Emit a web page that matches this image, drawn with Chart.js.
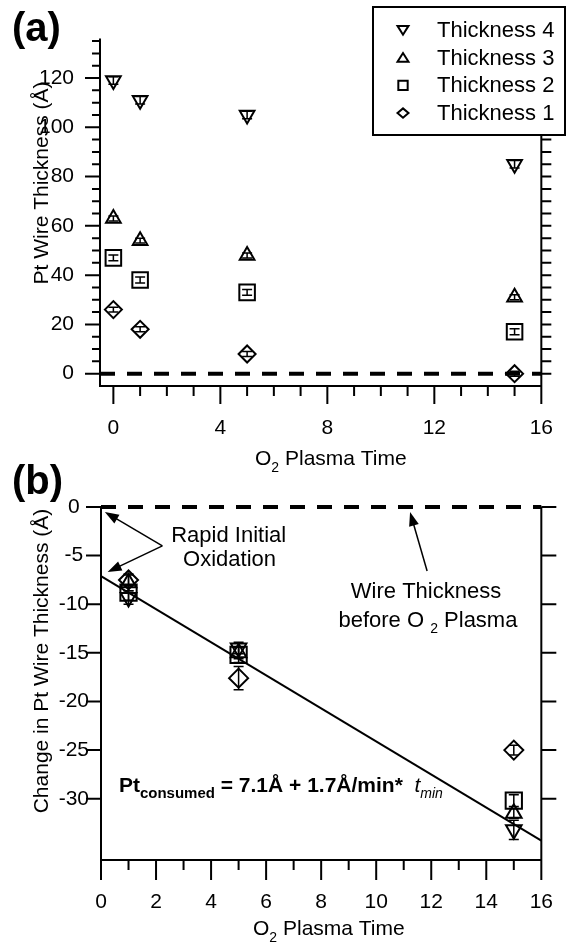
<!DOCTYPE html>
<html lang="en">
<head>
<meta charset="utf-8">
<title>Pt wire thickness vs O2 plasma time</title>
<style>
  body { margin: 0; background: #fff; }
  #wrap { position: relative; width: 583px; height: 945px; }
  canvas { position: absolute; left: 0; }
  #chartA { top: 0; }
  #chartB { top: 455px; }
</style>
</head>
<body>
<div id="wrap">
  <canvas id="chartA" width="583" height="475"></canvas>
  <canvas id="chartB" width="583" height="490"></canvas>
</div>
<script src="https://cdn.jsdelivr.net/npm/chart.js"></script>
<script>
// plasma exposure times (min)
const times = [0, 1, 5, 15]
const timesB = [1, 5, 15]

// (a) wire thickness, Å
const thick4 = [119, 111, 105, 85]
const thick3 = [63, 54, 48, 31]
const thick2 = [47, 38, 33, 17]
const thick1 = [26, 18, 8, 0]
const errThick4 = [1.5, 1.5, 1.5, 1.5]
const errThick3 = [1, 1, 1, 1]
const errThick2 = [1.2, 1.2, 1.2, 1.2]
const errThick1 = [1, 1, 1, 1]

// (b) change in thickness, Å
const change4 = [-9.3, -14.5, -33.2]
const change3 = [-7.8, -15.0, -31.5]
const change2 = [-8.8, -15.2, -30.2]
const change1 = [-7.5, -17.6, -25.0]
const errChange4 = [0.7, 0.6, 1.0]
const errChange3 = [0.8, 0.6, 0.5]
const errChange2 = [0.8, 0.8, 0.6]
const errChange1 = [0.6, 1.2, 0.5]

// linear fit: Pt consumed = 7.1 + 1.7 * t
const fitIntercept = -7.1
const fitSlope = -1.7

const xTicksA = [0, 4, 8, 12, 16]
const yTicksA = [0, 20, 40, 60, 80, 100, 120]
const xTicksB = [0, 2, 4, 6, 8, 10, 12, 14, 16]
const yTicksB = [0, -5, -10, -15, -20, -25, -30]

const FONT = 'Arial, "Liberation Sans", sans-serif'
Chart.defaults.font.family = FONT
Chart.defaults.color = '#000'

function pts(xs, ys) {
  return xs.map((x, i) => ({x: x, y: ys[i]}))
}

function series(label, xs, ys, errs, style, rot, r) {
  return {
    label: label,
    data: pts(xs, ys),
    errors: errs,
    pointStyle: style,
    pointRotation: rot,
    pointRadius: r,
    pointHoverRadius: r,
    pointBorderWidth: 2,
    pointBorderColor: '#000',
    pointBackgroundColor: 'rgba(0,0,0,0)',
    clip: false
  }
}

function isMult(v, step) {
  const q = v / step
  return Math.abs(q - Math.round(q)) < 1e-6
}

// axis lines and tick marks (major/minor lengths differ)
const frame = {
  id: 'frame',
  afterDraw(chart, args, o) {
    const {ctx, chartArea: a, scales: {x, y}} = chart
    ctx.save()
    ctx.strokeStyle = '#000'
    ctx.lineWidth = 2
    ctx.beginPath()
    ctx.moveTo(a.left, a.top)
    ctx.lineTo(a.left, a.bottom)
    ctx.lineTo(a.right, a.bottom)
    ctx.moveTo(a.right, a.top)
    ctx.lineTo(a.right, a.bottom)
    for (let v = o.x.from; v <= o.x.to + 1e-9; v += o.x.minor) {
      const px = x.getPixelForValue(v)
      ctx.moveTo(px, a.bottom)
      ctx.lineTo(px, a.bottom + (isMult(v, o.x.major) ? o.x.majorLen : o.x.minorLen))
    }
    for (let v = o.y.from; v <= o.y.to + 1e-9; v += o.y.minor) {
      const py = y.getPixelForValue(v)
      ctx.moveTo(a.left, py)
      ctx.lineTo(a.left - (isMult(v, o.y.major) ? o.y.majorLen : o.y.minorLen), py)
    }
    for (let v = o.right.from; v <= o.right.to + 1e-9; v += o.right.step) {
      const py = y.getPixelForValue(v)
      ctx.moveTo(a.right, py)
      ctx.lineTo(a.right + o.right.len, py)
    }
    ctx.stroke()
    ctx.restore()
  }
}

// vertical error bars with short caps
const errorBars = {
  id: 'errorBars',
  afterDatasetsDraw(chart) {
    const {ctx, scales: {y}} = chart
    ctx.save()
    ctx.strokeStyle = '#000'
    ctx.lineWidth = 1.5
    chart.data.datasets.forEach((ds, i) => {
      if (!ds.errors) return
      const meta = chart.getDatasetMeta(i)
      meta.data.forEach((pt, j) => {
        const v = ds.data[j].y, e = ds.errors[j]
        const t = y.getPixelForValue(v + e), b = y.getPixelForValue(v - e)
        ctx.beginPath()
        ctx.moveTo(pt.x, t); ctx.lineTo(pt.x, b)
        ctx.moveTo(pt.x - 5, t); ctx.lineTo(pt.x + 5, t)
        ctx.moveTo(pt.x - 5, b); ctx.lineTo(pt.x + 5, b)
        ctx.stroke()
      })
    })
    ctx.restore()
  }
}

// text runs with subscripts: [text, font, dy]
function richText(ctx, parts, x, y, align) {
  let w = 0
  parts.forEach(p => { ctx.font = p[1]; w += ctx.measureText(p[0]).width })
  let cx = align === 'center' ? x - w / 2 : x
  ctx.textAlign = 'left'
  parts.forEach(p => {
    ctx.font = p[1]
    ctx.fillText(p[0], cx, y + (p[2] || 0))
    cx += ctx.measureText(p[0]).width
  })
}

function arrow(ctx, x1, y1, x2, y2) {
  const ang = Math.atan2(y2 - y1, x2 - x1), L = 14, W = 5
  ctx.beginPath()
  ctx.moveTo(x1, y1)
  ctx.lineTo(x2 - Math.cos(ang) * L * 0.8, y2 - Math.sin(ang) * L * 0.8)
  ctx.stroke()
  ctx.beginPath()
  ctx.moveTo(x2, y2)
  ctx.lineTo(x2 - Math.cos(ang) * L - Math.sin(ang) * W, y2 - Math.sin(ang) * L + Math.cos(ang) * W)
  ctx.lineTo(x2 - Math.cos(ang) * L + Math.sin(ang) * W, y2 - Math.sin(ang) * L - Math.cos(ang) * W)
  ctx.closePath()
  ctx.fill()
}

function marker(ctx, style, x, y, r) {
  ctx.beginPath()
  if (style === 'down') {
    ctx.moveTo(x - r, y - r * 0.75); ctx.lineTo(x + r, y - r * 0.75); ctx.lineTo(x, y + r * 0.85)
  } else if (style === 'up') {
    ctx.moveTo(x - r, y + r * 0.75); ctx.lineTo(x + r, y + r * 0.75); ctx.lineTo(x, y - r * 0.85)
  } else if (style === 'square') {
    ctx.rect(x - r * 0.85, y - r * 0.85, r * 1.7, r * 1.7)
  } else {
    ctx.moveTo(x - r, y); ctx.lineTo(x, y - r * 0.85); ctx.lineTo(x + r, y); ctx.lineTo(x, y + r * 0.85)
  }
  ctx.closePath()
  ctx.stroke()
}

const xTitle = (size) => [['O', size + 'px ' + FONT], ['2', '14px ' + FONT, 7], [' Plasma Time', size + 'px ' + FONT]]

const decorA = {
  id: 'decorA',
  afterDraw(chart) {
    const ctx = chart.ctx
    ctx.save()
    ctx.fillStyle = '#000'
    ctx.strokeStyle = '#000'
    ctx.textBaseline = 'alphabetic'
    ctx.font = 'bold 40px ' + FONT
    ctx.textAlign = 'left'
    ctx.fillText('(a)', 12, 41)
    richText(ctx, xTitle(21), 255, 465, 'left')
    ctx.translate(48, 183)
    ctx.rotate(-Math.PI / 2)
    ctx.font = '21px ' + FONT
    ctx.textAlign = 'center'
    ctx.fillText('Pt Wire Thickness (Å)', 0, 0)
    ctx.restore()

    // legend box
    ctx.save()
    ctx.lineWidth = 2
    ctx.strokeStyle = '#000'
    ctx.fillStyle = '#fff'
    ctx.fillRect(373, 7, 192, 128)
    ctx.strokeRect(373, 7, 192, 128)
    const rows = [['down', 'Thickness 4'], ['up', 'Thickness 3'], ['square', 'Thickness 2'], ['diamond', 'Thickness 1']]
    ctx.fillStyle = '#000'
    ctx.font = '22px ' + FONT
    ctx.textAlign = 'left'
    ctx.textBaseline = 'middle'
    rows.forEach((r, i) => {
      const yy = 30 + i * 27.7
      ctx.lineWidth = 2
      marker(ctx, r[0], 403, yy, 5.5)
      ctx.fillText(r[1], 437, yy + 1)
    })
    ctx.restore()
  }
}

const decorB = {
  id: 'decorB',
  afterDraw(chart) {
    const {ctx, scales: {x, y}} = chart
    const X = v => x.getPixelForValue(v), Y = v => y.getPixelForValue(v)
    ctx.save()
    ctx.fillStyle = '#000'
    ctx.strokeStyle = '#000'
    ctx.textBaseline = 'alphabetic'
    ctx.font = 'bold 40px ' + FONT
    ctx.textAlign = 'left'
    ctx.fillText('(b)', 12, 39)
    richText(ctx, xTitle(21), 253, 480, 'left')

    const f = '22px ' + FONT
    ctx.font = f
    ctx.textAlign = 'center'
    ctx.fillText('Rapid Initial', X(4.64), Y(-3.6))
    ctx.fillText('Oxidation', X(4.67), Y(-6.06))
    ctx.fillText('Wire Thickness', X(11.81), Y(-9.35))
    richText(ctx, [['before O ', f], ['2', '14px ' + FONT, 6], [' Plasma', f]], X(11.88), Y(-12.33), 'center')

    ctx.lineWidth = 1.5
    arrow(ctx, X(2.23), Y(-4.0), X(0.14), Y(-0.51))
    arrow(ctx, X(2.23), Y(-4.0), X(0.24), Y(-6.68))
    arrow(ctx, X(11.85), Y(-6.58), X(11.23), Y(-0.51))

    const b = 'bold 21px ' + FONT
    richText(ctx, [
      ['Pt', b], ['consumed', 'bold 15px ' + FONT, 6],
      [' = 7.1Å + 1.7Å/min*  ', b],
      ['t', 'italic 21px ' + FONT], ['min', 'italic 14px ' + FONT, 6]
    ], X(0.65), Y(-29.28), 'left')

    ctx.translate(48, 206)
    ctx.rotate(-Math.PI / 2)
    ctx.font = '21px ' + FONT
    ctx.textAlign = 'center'
    ctx.fillText('Change in Pt Wire Thickness (Å)', 0, 0)
    ctx.restore()
  }
}

// labelled ticks come straight from the tick lists
function axis(min, max, size, pad, list, cross) {
  return {
    type: 'linear', min: min, max: max,
    afterFit: s => { if (s.isHorizontal()) s.height = size; else s.width = size },
    afterBuildTicks: s => { s.ticks = list.map(v => ({value: v})) },
    grid: {display: false, drawTicks: false},
    border: {display: false},
    ticks: {
      autoSkip: false, maxRotation: 0, minRotation: 0,
      padding: pad, color: '#000', font: {size: 21},
      crossAlign: cross || 'near',
      callback: v => String(v)
    }
  }
}

new Chart(document.getElementById('chartA'), {
  type: 'scatter',
  data: {
    datasets: [
      series('Thickness 4', times, thick4, errThick4, 'triangle', 180, 8.5),
      series('Thickness 3', times, thick3, errThick3, 'triangle', 0, 8.5),
      series('Thickness 2', times, thick2, errThick2, 'rect', 0, 11),
      series('Thickness 1', times, thick1, errThick1, 'rectRot', 0, 8.5),
      {
        data: [{x: -0.5, y: 0}, {x: 16, y: 0}], showLine: true,
        borderColor: '#000', borderWidth: 4, borderDash: [15, 12], pointRadius: 0, clip: false
      }
    ]
  },
  options: {
    responsive: false,
    animation: false,
    layout: {padding: {top: 27, right: 13, left: 0, bottom: 0}},
    plugins: {
      legend: {display: false},
      tooltip: {enabled: false},
      frame: {
        x: {from: 0, to: 16, minor: 1, major: 4, minorLen: 10, majorLen: 18},
        y: {from: 0, to: 135, minor: 5, major: 20, minorLen: 8, majorLen: 15},
        right: {from: 0, to: 135, step: 5, len: 10}
      }
    },
    scales: {
      x: axis(-0.5, 16, 89, 30, xTicksA),
      y: axis(-5, 136, 100, 26, yTicksA)
    }
  },
  plugins: [frame, errorBars, decorA]
})

new Chart(document.getElementById('chartB'), {
  type: 'scatter',
  data: {
    datasets: [
      series('Thickness 4', timesB, change4, errChange4, 'triangle', 180, 9),
      series('Thickness 3', timesB, change3, errChange3, 'triangle', 0, 9),
      series('Thickness 2', timesB, change2, errChange2, 'rect', 0, 11.5),
      series('Thickness 1', timesB, change1, errChange1, 'rectRot', 0, 9.5),
      {
        data: [{x: 0, y: fitIntercept}, {x: 16, y: fitIntercept + fitSlope * 16}], showLine: true,
        borderColor: '#000', borderWidth: 2, pointRadius: 0, clip: false
      },
      {
        data: [{x: 0, y: 0}, {x: 16, y: 0}], showLine: true,
        borderColor: '#000', borderWidth: 4, borderDash: [15, 12], pointRadius: 0, clip: false
      }
    ]
  },
  options: {
    responsive: false,
    animation: false,
    layout: {padding: {top: 52, right: 16, left: 0, bottom: 0}},
    plugins: {
      legend: {display: false},
      tooltip: {enabled: false},
      frame: {
        x: {from: 0, to: 16, minor: 1, major: 2, minorLen: 10, majorLen: 20},
        y: {from: -30, to: 0, minor: 5, major: 5, minorLen: 15, majorLen: 15},
        right: {from: -30, to: 0, step: 5, len: 15}
      }
    },
    scales: {
      x: axis(0, 16, 85, 30, xTicksB),
      y: axis(-36.3, 0, 101, 12, yTicksB, 'center')
    }
  },
  plugins: [frame, errorBars, decorB]
})
</script>
</body>
</html>
